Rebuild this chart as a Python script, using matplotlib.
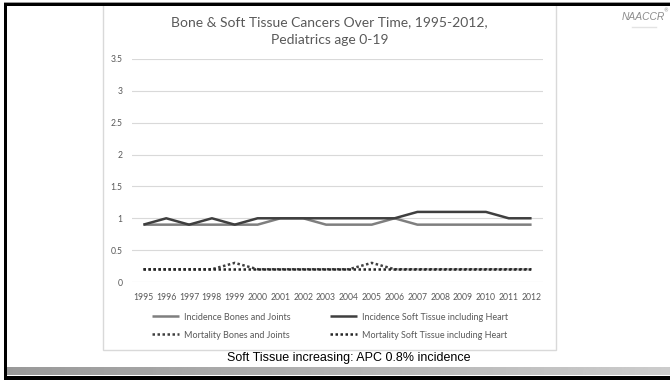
import matplotlib
matplotlib.use("Agg")
import matplotlib.pyplot as plt
import numpy as np
from matplotlib.patches import Rectangle

# ---- data -------------------------------------------------------------
years = [str(y) for y in range(1995, 2013)]
inc_bones = [0.9, 0.9, 0.9, 0.9, 0.9, 0.9, 1.0, 1.0, 0.9, 0.9, 0.9, 1.0, 0.9, 0.9, 0.9, 0.9, 0.9, 0.9]
inc_soft = [0.9, 1.0, 0.9, 1.0, 0.9, 1.0, 1.0, 1.0, 1.0, 1.0, 1.0, 1.0, 1.1, 1.1, 1.1, 1.1, 1.0, 1.0]
mort_bones = [0.2, 0.2, 0.2, 0.2, 0.3, 0.2, 0.2, 0.2, 0.2, 0.2, 0.3, 0.2, 0.2, 0.2, 0.2, 0.2, 0.2, 0.2]
mort_soft = [0.2, 0.2, 0.2, 0.2, 0.2, 0.2, 0.2, 0.2, 0.2, 0.2, 0.2, 0.2, 0.2, 0.2, 0.2, 0.2, 0.2, 0.2]
y_ticks = [0, 0.5, 1, 1.5, 2, 2.5, 3, 3.5]
y_tick_labels = ["0", "0.5", "1", "1.5", "2", "2.5", "3", "3.5"]
series_names = ["Incidence Bones and Joints", "Incidence Soft Tissue including Heart",
                "Mortality Bones and Joints", "Mortality Soft Tissue including Heart"]

W, H = 670, 382
fig = plt.figure(figsize=(W / 100, H / 100), dpi=100)
fig.patch.set_facecolor("white")

# ---- slide frame (pixel coordinates) ----------------------------------
bg = fig.add_axes([0, 0, 1, 1])
bg.set_xlim(0, W)
bg.set_ylim(H, 0)
bg.axis("off")

# chart box
bg.add_patch(Rectangle((103, 4), 453, 346, facecolor="white", edgecolor="#d9d9d9", lw=1))
# top rules
bg.add_patch(Rectangle((4, 1.5), W - 4, 1.5, facecolor="#9a9a9a", edgecolor="none"))
bg.add_patch(Rectangle((4, 3), W - 4, 3, facecolor="black", edgecolor="none"))
# left rule
bg.add_patch(Rectangle((4, 3), 3, 377, facecolor="black", edgecolor="none"))
# bottom gradient bar and rule
grad = np.linspace(0.60, 0.80, 256)[None, :]
bg.imshow(grad, extent=(7, W, 375.5, 368), cmap="gray", vmin=0, vmax=1, aspect="auto", zorder=1)
bg.add_patch(Rectangle((4, 376), W - 4, 3.5, facecolor="black", edgecolor="none", zorder=2))

# logo
bg.text(643, 16.5, "NAACCR", ha="center", va="center", fontsize=7.4, style="italic",
        color="#8c8c8c", family="Liberation Sans")
bg.text(663.5, 10.5, "®", ha="left", va="center", fontsize=3.5, color="#8c8c8c")
bg.plot([632, 656], [26.5, 26.5], color="#e3e3e3", lw=1)

# caption
bg.text(348.5, 358, "Soft Tissue increasing: APC 0.8% incidence", ha="center", va="center",
        fontsize=9, color="black", family="Liberation Sans")

# title
bg.text(329.5, 31, "Bone & Soft Tissue Cancers Over Time, 1995-2012,\nPediatrics age 0-19",
        ha="center", va="center", fontsize=10, color="#595959", family="Lato",
        linespacing=1.5)

# ---- plot area --------------------------------------------------------
ax = fig.add_axes([132 / W, (H - 282) / H, (543 - 132) / W, (282 - 59) / H])
ax.set_facecolor("none")
x = np.arange(len(years))

lw = 1.8
h1, = ax.plot(x, inc_bones, color="#7f7f7f", lw=lw, solid_capstyle="butt")
h2, = ax.plot(x, inc_soft, color="#3f3f3f", lw=lw, solid_capstyle="butt")
h3, = ax.plot(x, mort_bones, color="#404040", lw=lw, linestyle=(0, (1, 1)),
              dash_capstyle="butt")
h4, = ax.plot(x, mort_soft, color="#262626", lw=lw, linestyle=(0, (1, 1)),
              dash_capstyle="butt")

ax.set_xlim(-0.5, len(years) - 0.5)
ax.set_ylim(0, 3.5)
ax.set_yticks(y_ticks)
ax.set_yticklabels(y_tick_labels)
ax.set_xticks(x)
ax.set_xticklabels(years)
ax.grid(axis="y", color="#d9d9d9", lw=0.8)
ax.set_axisbelow(True)
for s in ax.spines.values():
    s.set_visible(False)
ax.tick_params(axis="both", length=0, colors="#595959", labelsize=6.2)
ax.tick_params(axis="x", pad=8)
ax.tick_params(axis="y", pad=7)
for lab in ax.get_xticklabels() + ax.get_yticklabels():
    lab.set_family("Lato")

leg = ax.legend([h1, h3, h2, h4],
                [series_names[0], series_names[2], series_names[1], series_names[3]],
                ncol=2, loc="upper left", bbox_to_anchor=(152 / W, (H - 312.5) / H),
                bbox_transform=fig.transFigure, frameon=False,
                handlelength=3.0, handletextpad=0.55, columnspacing=4.4,
                labelspacing=1.0, borderpad=0, borderaxespad=0,
                prop={"family": "Lato", "size": 6.5})
for t in leg.get_texts():
    t.set_color("#595959")

fig.savefig("out.png", dpi=100)
